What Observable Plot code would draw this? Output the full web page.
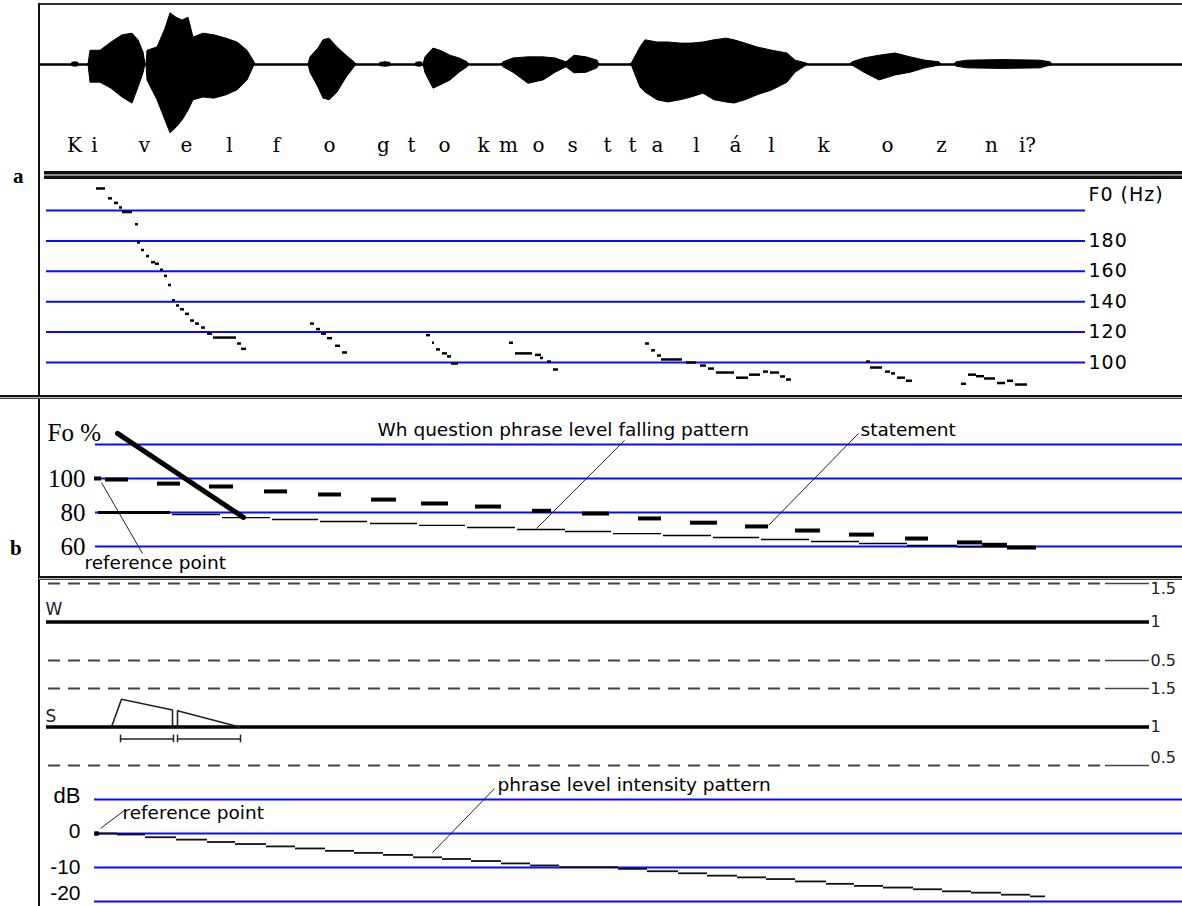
<!DOCTYPE html>
<html><head><meta charset="utf-8">
<script src="https://cdn.jsdelivr.net/npm/d3@7"></script>
<script src="https://cdn.jsdelivr.net/npm/@observablehq/plot@0.6"></script>
<style>
html,body{margin:0;padding:0;background:#fff;}
#fig{position:relative;width:1182px;height:906px;overflow:hidden;background:#fff;}
.deco{position:absolute;box-sizing:border-box;}
.plab{position:absolute;font:bold 21px "Liberation Serif",serif;color:#000;}
</style></head><body><div id="fig"></div>
<script>
// ---------------- DATA (time axis in arbitrary units along the utterance) ----------------
// Oscillogram envelope, one sub-array per voiced burst
const waveTime = [
  [72,75,78],
  [88,90,100,111,122,132,138,143,145],
  [146,147,157,165,170,176,182,188,193,203,214,226,237,247,253,255],
  [308,310,318,323,329,337,346,354,356],
  [380,385,390],
  [416,419,422],
  [423,425,433,440,450,459,467,469],
  [501,503,513,528,543,555,566,574,586,597,599],
  [630,632,640,645,657,668,680,691,703,714,726,734,745,757,772,787,795,806,808],
  [850,852,864,879,895,910,925,939,941],
  [954,956,967,1002,1040,1050,1052]
];
const waveUpper = [
  [0.03,0.04,0.03],
  [0,0.25,0.25,0.40,0.53,0.56,0.44,0.22,0],
  [0,0.25,0.31,0.65,0.93,0.85,0.80,0.85,0.49,0.56,0.53,0.47,0.40,0.25,0.07,0],
  [0,0.13,0.29,0.44,0.47,0.31,0.16,0.04,0],
  [0.03,0.04,0.03],
  [0.03,0.04,0.03],
  [0,0.13,0.29,0.25,0.16,0.11,0.04,0],
  [0,0.04,0.11,0.13,0.13,0.11,0.04,0.16,0.13,0.07,0],
  [0,0.04,0.31,0.44,0.40,0.40,0.38,0.38,0.40,0.44,0.47,0.44,0.38,0.31,0.25,0.20,0.07,0.02,0],
  [0,0.04,0.11,0.16,0.20,0.13,0.07,0.04,0],
  [0,0.04,0.07,0.08,0.07,0.04,0]
];
const waveLower = [
  [-0.03,-0.04,-0.03],
  [0,-0.33,-0.33,-0.44,-0.60,-0.71,-0.42,-0.16,0],
  [0,-0.29,-0.65,-1.02,-1.25,-1.15,-1.02,-0.84,-0.65,-0.60,-0.62,-0.56,-0.47,-0.29,-0.05,0],
  [0,-0.15,-0.42,-0.62,-0.65,-0.51,-0.24,-0.05,0],
  [-0.03,-0.04,-0.03],
  [-0.03,-0.04,-0.03],
  [0,-0.16,-0.44,-0.38,-0.29,-0.15,-0.05,0],
  [0,-0.05,-0.15,-0.35,-0.29,-0.15,-0.05,-0.16,-0.15,-0.07,0],
  [0,-0.05,-0.42,-0.51,-0.65,-0.69,-0.65,-0.60,-0.53,-0.65,-0.69,-0.71,-0.65,-0.56,-0.47,-0.33,-0.15,-0.02,0],
  [0,-0.02,-0.15,-0.29,-0.20,-0.15,-0.07,-0.02,0],
  [0,-0.04,-0.07,-0.08,-0.07,-0.02,0]
];
const waveSpan = [40, 1182];

// Segmental transcription
const letters = ["K","i","v","e","l","f","o","g","t","o","k","m","o","s","t","t","a","l","á","l","k","o","z","n","i?"];
const letterTime = [74,94,144,186,229,276,329,383,411,444,483,508,538,572,607,632,657,696,735,771,823,887,941,991,1027];

// F0 track (Hz), each value drawn as a short dash from start to end
const f0Start = [96,108,114,119,122,135,137,141,146,151,155,160,164,168,172,176,180,185,190,195,201,207,213,237,241,
  310,316,321,327,335,342,
  426,432,436,442,447,451,
  509,515,535,540,547,553,
  645,651,657,661,686,700,708,716,736,749,763,770,780,786,
  866,870,885,891,897,906,
  961,968,976,984,997,1007,1015];
const f0End = [105,112,118,122,132,138,140,144,149,155,159,163,167,171,175,179,184,189,194,199,205,212,236,241,246,
  314,320,326,332,340,347,
  430,434,440,447,451,458,
  513,532,541,543,551,558,
  649,655,661,682,696,706,714,734,748,760,768,779,785,791,
  870,882,890,895,905,912,
  966,976,984,995,1005,1013,1027];
const f0Hz = [214.5,208,205,202,199,191,179,174,170,166,165,161,157,151,141,137.5,135,132,127.6,125.6,123,119,116.4,112.5,109,
  125.6,122,119,116,111,106.6,
  118,113,108.6,106,104,99.3,
  113,106,105,103,100.6,95.4,
  112.5,108,104.6,102,100,98,96,93.4,90,92,94,93.4,90.8,88.8,
  100.6,96.7,94,92.8,90,88,
  86,92,91,89.5,86.5,88,85.5];
const f0Grid = [100,120,140,160,180,200];
const f0TickValues = [100,120,140,160,180];
const f0Title = "F0 (Hz)";
const f0GridSpan = [46, 1085];

// Fo % panel
const foGrid = [60,80,100,120];
const foTickValues = [100,80,60];
const foGridSpan = [95, 1182];
const statementStart = [94,105,157,209,264,318,371,421,475,532,582,638,690,745,795,849,905,957,982,1007];
const statementEnd   = [101,128,180,233,287,341,396,448,501,551,609,661,717,768,820,874,928,982,1007,1036];
const statementPct   = [100,99.4,97,95.3,92.4,90.6,87.6,85.3,83.5,81,79.4,76.5,74,71.8,69.4,67,64.7,62.4,61,59.4];
const whStepStart = [98,172,222,272,320,370,419,467,517,565,613,663,713,761,811,859,907,957];
const whStepEnd   = [170,220,270,318,367,417,465,515,565,611,661,711,759,809,859,907,957,1007];
const whStepPct   = [80,78.8,77,75.9,74.7,73.5,72.4,71.2,70,68.8,67.6,66.5,65.3,64.1,62.9,61.8,60.6,59.8];
const whFallTime = [117, 243];
const whFallPct  = [126.5, 77.1];

// W / S panels (relative weight)
const wsLevels = [1.5, 1, 0.5];
const wsLabels = ["1.5", "1", "0.5"];
const wLabelAt = [1.43, 1, 0.5];
const sLabelAt = [1.5, 1, 0.6];
const wsDashSpan = [48, 1105];
const wsLineEnd = 1149;
const sShapeTime = [[111,121,172,172],[177,177,239]];
const sShapeVal  = [[1.0,1.36,1.22,1.0],[1.0,1.21,1.0]];
const durStart = [120,177];
const durEnd   = [173,240];

// dB panel
const dbGrid = [10,0,-10,-20];
const dbTickValues = [0,-10,-20];
const dbTickAt = [0.6,-9.8,-17.6];
const dbGridSpan = [94, 1182];
const intStart = [96,117,145,176,207,235,266,295,325,354,383,413,442,471,501,530,559,588,618,647,678,707,737,766,795,826,854,883,913,942,971,1001,1030];
const intEnd   = [117,145,176,207,235,266,295,325,354,383,413,442,471,501,530,559,588,618,647,678,707,737,766,795,826,854,883,913,942,971,1001,1030,1045];
const intDb    = [0,-0.3,-1.1,-1.8,-2.5,-3.1,-3.8,-4.4,-5.1,-5.7,-6.3,-7.0,-7.5,-8.1,-8.8,-9.4,-9.9,-9.9,-10.4,-11.1,-11.7,-12.4,-12.9,-13.4,-14.1,-14.8,-15.4,-15.9,-16.4,-17.0,-17.4,-18.0,-18.5];

// Annotations: [label, time, value] and leader lines [t1, v1, t2, v2]
const foNotes = [["Wh question phrase level falling pattern",377,128.2],["statement",860,128.2],["reference point",84,50]];
const foLeaders = [[101,97.6,142,55.9],[536,70.6,624,122.4],[768,72.4,858,126.5]];
const dbNotes = [["reference point",122,5.9],["phrase level intensity pattern",497,14.1]];
const dbLeaders = [[100,1.5,124,6.8],[432,-5.6,494,13.2]];

// ---------------- DRAWING ----------------
const W = 1182;
const BLUE = "#0a0aff";
const SANS = "DejaVu Sans";
const fig = document.getElementById("fig");

function panel(top, height, y, marks, extraStyle) {
  const svg = Plot.plot({
    width: W, height, margin: 0,
    x: {domain: [0, W], range: [0, W], axis: null},
    y: {...y, axis: null},
    style: Object.assign({background: "transparent", overflow: "visible"}, extraStyle || {}),
    marks
  });
  svg.style.position = "absolute";
  svg.style.left = "0px";
  svg.style.top = top + "px";
  fig.appendChild(svg);
}

// Waveform rows
const waveRows = [];
waveTime.forEach((ts, b) => ts.forEach((t, i) => waveRows.push({b, t, up: waveUpper[b][i], lo: waveLower[b][i]})));
const letterRows = letters.map((s, i) => ({s, t: letterTime[i], y: -1.47}));

panel(0, 171, {domain: [-1, 1], range: [119, 9]}, [
  Plot.ruleY([{y: 0, x1: waveSpan[0], x2: waveSpan[1]}], {y: "y", x1: "x1", x2: "x2", stroke: "#000", strokeWidth: 2.5}),
  Plot.areaY(waveRows, {x: "t", y1: "lo", y2: "up", z: "b", fill: "#000", stroke: "#000", strokeWidth: 1, strokeLinejoin: "miter", curve: "linear"}),
  Plot.text(letterRows, {x: "t", y: "y", text: "s", fontFamily: "DejaVu Serif", fontSize: 20, lineAnchor: "middle", fill: "#000"})
]);

// F0 panel
const f0Dashes = f0Hz.map((v, i) => ({x1: f0Start[i], x2: f0End[i], v}));
panel(172, 225, {domain: [100, 200], range: [190, 38]}, [
  Plot.ruleY(f0Grid.map(v => ({v, x1: f0GridSpan[0], x2: f0GridSpan[1]})), {y: "v", x1: "x1", x2: "x2", stroke: BLUE, strokeWidth: 2}),
  Plot.text(f0TickValues.map(v => ({v, t: f0GridSpan[1] + 3})), {x: "t", y: "v", text: d => String(d.v), textAnchor: "start", lineAnchor: "middle", fontFamily: SANS, fontSize: 19, fill: "#000"}),
  Plot.text([{t: f0GridSpan[1] + 3, v: 210, s: f0Title}], {x: "t", y: "v", text: "s", textAnchor: "start", lineAnchor: "middle", fontFamily: SANS, fontSize: 19, fill: "#000"}),
  Plot.ruleY(f0Dashes, {y: "v", x1: "x1", x2: "x2", stroke: "#000", strokeWidth: 2.5})
], {letterSpacing: "1px"});

// Fo % panel
const stRows = statementPct.map((v, i) => ({x1: statementStart[i], x2: statementEnd[i], v}));
const whRows = whStepPct.map((v, i) => ({x1: whStepStart[i], x2: whStepEnd[i], v}));
panel(400, 176, {domain: [60, 100], range: [146, 78]}, [
  Plot.ruleY(foGrid.map(v => ({v, x1: foGridSpan[0], x2: foGridSpan[1]})), {y: "v", x1: "x1", x2: "x2", stroke: BLUE, strokeWidth: 2}),
  Plot.text(foTickValues.map(v => ({v, t: 85})), {x: "t", y: "v", text: d => String(d.v), textAnchor: "end", lineAnchor: "middle", fontFamily: "Liberation Serif", fontSize: 25, fill: "#000"}),
  Plot.text([{t: 47, v: 127, s: "Fo %"}], {x: "t", y: "v", text: "s", textAnchor: "start", lineAnchor: "middle", fontFamily: "Liberation Serif", fontSize: 25, fill: "#000"}),
  Plot.ruleY(whRows.slice(1), {y: "v", x1: "x1", x2: "x2", stroke: "#000", strokeWidth: 1.4}),
  Plot.ruleY(whRows.slice(0, 1), {y: "v", x1: "x1", x2: "x2", stroke: "#000", strokeWidth: 3}),
  Plot.line(whFallTime.map((t, i) => ({t, v: whFallPct[i]})), {x: "t", y: "v", stroke: "#000", strokeWidth: 5}),
  Plot.ruleY(stRows, {y: "v", x1: "x1", x2: "x2", stroke: "#000", strokeWidth: 4}),
  Plot.link(foLeaders.map(d => ({x1: d[0], y1: d[1], x2: d[2], y2: d[3]})), {x1: "x1", y1: "y1", x2: "x2", y2: "y2", stroke: "#222", strokeWidth: 1}),
  Plot.text(foNotes.map(d => ({s: d[0], t: d[1], v: d[2]})), {x: "t", y: "v", text: "s", textAnchor: "start", lineAnchor: "middle", fontFamily: SANS, fontSize: 18.5, fill: "#000"})
]);

// W and S panels
function wsMarks(letter, letterVal, labelAt, extra) {
  const dashed = wsLevels.filter(v => v !== 1);
  return [
    Plot.ruleY(dashed.map(v => ({v, x1: wsDashSpan[0], x2: wsDashSpan[1]})), {y: "v", x1: "x1", x2: "x2", stroke: "#444", strokeWidth: 2, strokeDasharray: "12,8"}),
    Plot.ruleY(dashed.map(v => ({v, x1: wsDashSpan[1], x2: wsLineEnd})), {y: "v", x1: "x1", x2: "x2", stroke: "#444", strokeWidth: 1.5}),
    Plot.ruleY([{v: 1, x1: 46, x2: wsLineEnd}], {y: "v", x1: "x1", x2: "x2", stroke: "#000", strokeWidth: 3.5}),
    Plot.text(wsLabels.map((s, i) => ({v: labelAt[i], s, t: wsLineEnd + 1})), {x: "t", y: "v", text: "s", textAnchor: "start", lineAnchor: "middle", fontFamily: SANS, fontSize: 16, fill: "#222"}),
    Plot.text([{s: letter, t: 45, v: letterVal}], {x: "t", y: "v", text: "s", textAnchor: "start", lineAnchor: "middle", fontFamily: SANS, fontSize: 17, fill: "#222"}),
    ...(extra || [])
  ];
}
panel(578, 96, {domain: [0.5, 1.5], range: [82, 5]}, wsMarks("W", 1.16, wLabelAt));

const sRows = [];
sShapeTime.forEach((ts, k) => ts.forEach((t, i) => sRows.push({k, t, v: sShapeVal[k][i]})));
const durRows = durStart.map((s, i) => ({x1: s, x2: durEnd[i], v: 0.845}));
const durTicks = [];
durStart.forEach((s, i) => { durTicks.push({t: s}); durTicks.push({t: durEnd[i]}); });
panel(674, 96, {domain: [0.5, 1.5], range: [91, 14]}, wsMarks("S", 1.13, sLabelAt, [
  Plot.line(sRows, {x: "t", y: "v", z: "k", stroke: "#222", strokeWidth: 1.6}),
  Plot.ruleY(durRows, {y: "v", x1: "x1", x2: "x2", stroke: "#222", strokeWidth: 1.5}),
  Plot.ruleX(durTicks, {x: "t", y1: 0.795, y2: 0.895, stroke: "#222", strokeWidth: 1.5})
]));

// dB panel
const intRows = intDb.map((v, i) => ({x1: intStart[i], x2: intEnd[i], v}));
panel(770, 136, {domain: [-10, 0], range: [97, 63]}, [
  Plot.ruleY(dbGrid.map(v => ({v, x1: dbGridSpan[0], x2: dbGridSpan[1]})), {y: "v", x1: "x1", x2: "x2", stroke: BLUE, strokeWidth: 2}),
  Plot.text(dbTickValues.map((v, i) => ({v: dbTickAt[i], s: String(v), t: 80})), {x: "t", y: "v", text: "s", textAnchor: "end", lineAnchor: "middle", fontFamily: "Liberation Sans", fontSize: 21, fill: "#000"}),
  Plot.text([{s: "dB", t: 53, v: 10.9}], {x: "t", y: "v", text: "s", textAnchor: "start", lineAnchor: "middle", fontFamily: "Liberation Sans", fontSize: 22, fill: "#000"}),
  Plot.ruleY(intRows, {y: "v", x1: "x1", x2: "x2", stroke: "#111", strokeWidth: 1.8}),
  Plot.dot([{t: 96, v: 0}], {x: "t", y: "v", symbol: "square", r: 2.5, fill: "#000"}),
  Plot.link(dbLeaders.map(d => ({x1: d[0], y1: d[1], x2: d[2], y2: d[3]})), {x1: "x1", y1: "y1", x2: "x2", y2: "y2", stroke: "#222", strokeWidth: 1}),
  Plot.text(dbNotes.map(d => ({s: d[0], t: d[1], v: d[2]})), {x: "t", y: "v", text: "s", textAnchor: "start", lineAnchor: "middle", fontFamily: SANS, fontSize: 18.5, fill: "#000"})
]);

// ---------------- FRAME (decorative borders) ----------------
function deco(css) { const d = document.createElement("div"); d.className = "deco"; d.style.cssText = css; fig.appendChild(d); }
deco("left:38px;top:3px;width:1144px;height:2px;background:#333;");
deco("left:38px;top:3px;width:2px;height:903px;background:#111;");
deco("left:44px;top:171px;width:1138px;height:8px;border-top:3px solid #111;border-bottom:3px solid #111;background:#888;");
deco("left:0px;top:395px;width:1182px;height:4px;border-top:2px solid #111;border-bottom:1px solid #444;background:#bbb;");
deco("left:39px;top:576px;width:1143px;height:4px;border-top:2px solid #111;border-bottom:1px solid #444;background:#bbb;");
function panelLabel(txt, left, top) { const d = document.createElement("div"); d.className = "plab"; d.textContent = txt; d.style.left = left + "px"; d.style.top = top + "px"; fig.appendChild(d); }
panelLabel("a", 13, 164);
panelLabel("b", 10, 536);
</script></body></html>
